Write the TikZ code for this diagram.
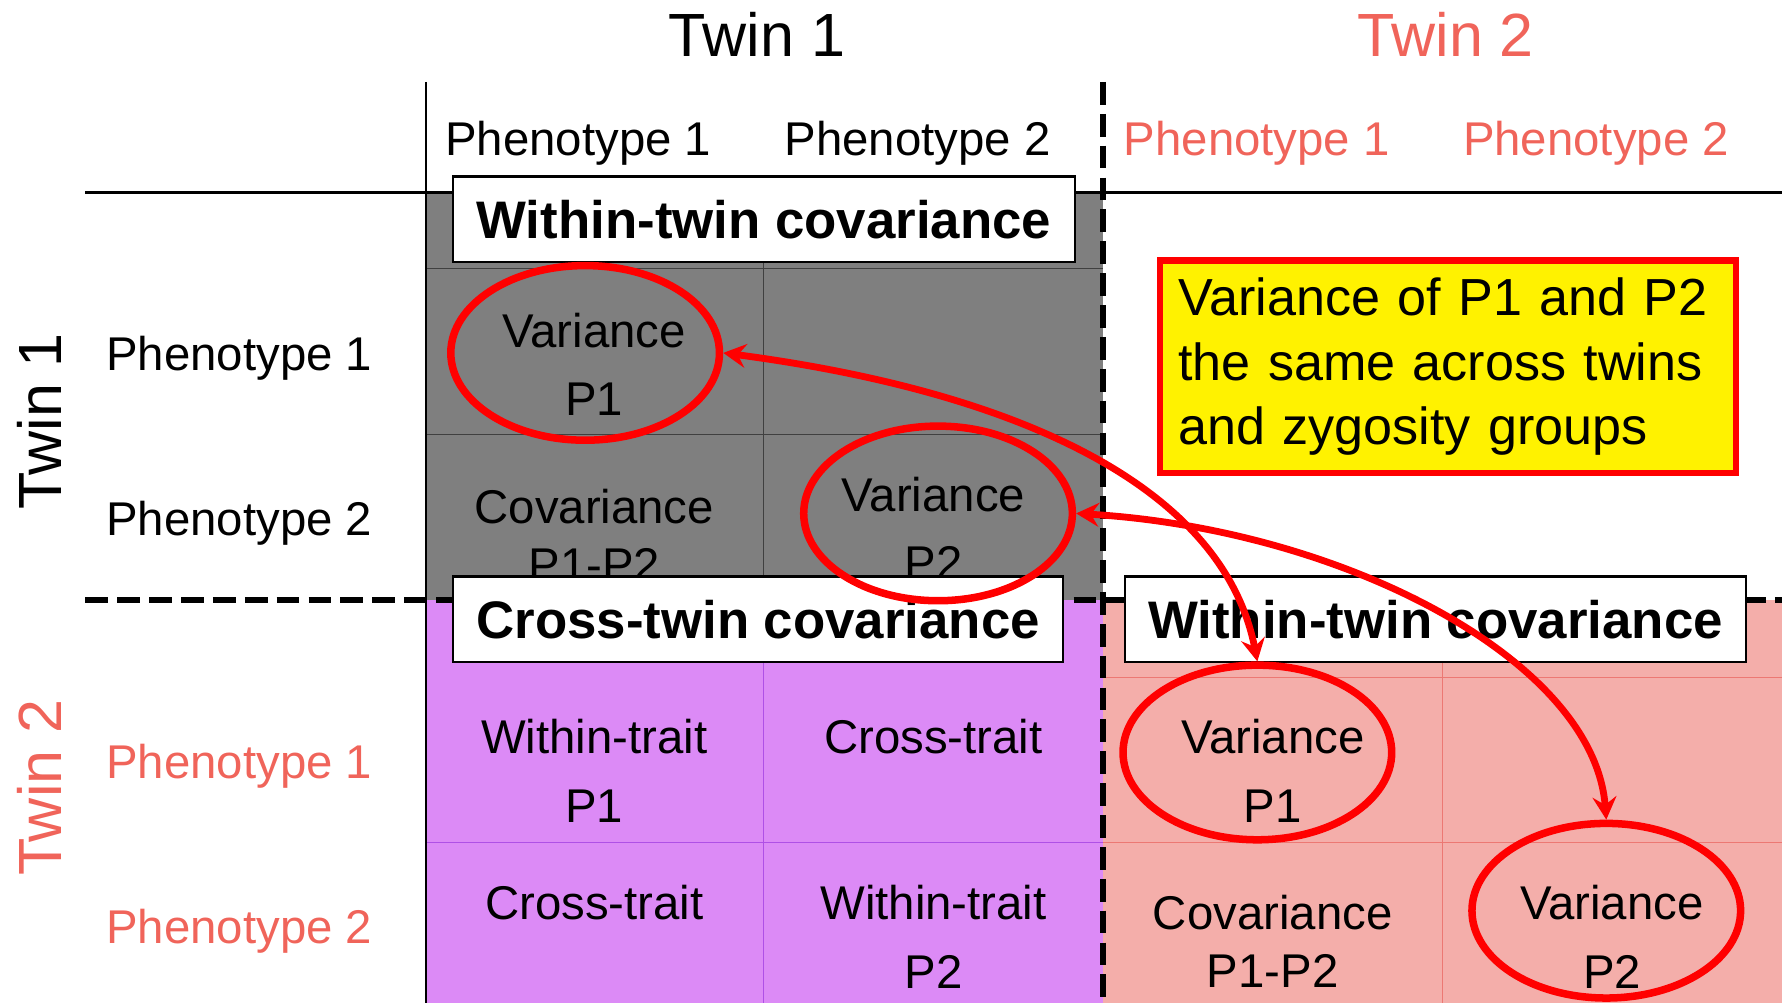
\documentclass[tikz,border=0pt]{standalone}
\usepackage{fontspec}
\setmainfont{Liberation Sans}
\usetikzlibrary{arrows.meta,positioning,shapes.geometric}

\definecolor{twincol}{RGB}{240,100,90}
\definecolor{cellgray}{RGB}{127,127,127}
\definecolor{cellpurple}{RGB}{220,138,246}
\definecolor{cellpink}{RGB}{244,174,170}
\definecolor{linepurple}{RGB}{175,80,230}
\definecolor{linepink}{RGB}{236,120,115}

\begin{document}
\begin{tikzpicture}[x=0.5pt,y=-0.5pt,
  txt/.style={font=\fontsize{20.8pt}{30pt}\selectfont,inner sep=0pt},
  cell/.style={txt,align=center},
  covcell/.style={cell,font=\fontsize{20.8pt}{25.5pt}\selectfont},
  big/.style={font=\fontsize{26.8pt}{32pt}\selectfont,inner sep=0pt},
  lbl/.style={draw,fill=white,line width=1pt,minimum height=37.5pt,inner sep=0pt,
    font=\fontsize{23.2pt}{28pt}\selectfont\bfseries},
  ring/.style={ellipse,draw=red,line width=3.3pt,minimum width=118pt,minimum height=76.7pt},
  arr/.style={{Stealth[length=10pt,width=10.5pt,inset=3.5pt]}-{Stealth[length=10pt,width=10.5pt,inset=3.5pt]},
    red,line width=3pt},
  gline/.style={line width=0.5pt},
  sepline/.style={dash pattern=on 10pt off 4pt,line width=2.75pt}]
\useasboundingbox (0,0) rectangle (1568,881);

% blocks of the matrix
\fill[cellgray] (374,169) rectangle (969,527);
\fill[cellpurple] (374,527) rectangle (969,881);
\fill[cellpink] (969,527) rectangle (1565,881);
\draw[gline,black!75] (374,236) -- (969,236) (374,382) -- (969,382) (671,169) -- (671,527);
\draw[gline,linepurple] (374,740) -- (969,740) (671,527) -- (671,881);
\draw[gline,linepink] (969,595) -- (1565,595) (969,740) -- (1565,740) (1267,527) -- (1267,881);
\draw[line width=1.2pt] (75,169) -- (1565,169);
\draw[line width=1pt] (374,72) -- (374,881);
\draw[sepline] (75,527) -- (1565,527);
\draw[sepline] (969,72) -- (969,881);

% headers
\node[big] (tw1) at (665,30) {Twin 1};
\node[big,twincol] (tw2) at (1270,30) {Twin 2};
\node[big,rotate=90] (tw1s) at (35,370) {Twin 1};
\node[big,rotate=90,twincol] (tw2s) at (35,692) {Twin 2};
\node[txt] (ca1) at (508,126) {Phenotype 1};
\node[txt] (ca2) at (806,126) {Phenotype 2};
\node[txt,twincol] (cb1) at (1104,126) {Phenotype 1};
\node[txt,twincol] (cb2) at (1402,126) {Phenotype 2};
\node[txt,anchor=west] (ra1) at (93,315) {Phenotype 1};
\node[txt,anchor=west] (ra2) at (93,460) {Phenotype 2};
\node[txt,anchor=west,twincol] (rb1) at (93,673) {Phenotype 1};
\node[txt,anchor=west,twincol] (rb2) at (93,818) {Phenotype 2};

% cell contents
\node[cell] (g11) at (522,320) {Variance\\P1};
\node[covcell] (g21) at (522,470) {Covariance\\P1-P2};
\node[cell] (g22) at (820,464) {Variance\\P2};
\node[cell] (p11) at (522,677) {Within-trait\\P1};
\node[cell] (p12) at (820,647) {Cross-trait};
\node[cell] (p21) at (522,793) {Cross-trait};
\node[cell] (p22) at (820,823) {Within-trait\\P2};
\node[cell] (r11) at (1118,677) {Variance\\P1};
\node[covcell] (r21) at (1118,827) {Covariance\\P1-P2};
\node[cell] (r22) at (1416,823) {Variance\\P2};

% block labels
\node[lbl,minimum width=273pt] (wtA) at (671,192.5) {Within-twin covariance};
\node[lbl,minimum width=268pt] (ctw) at (666,544) {Cross-twin covariance};
\node[lbl,minimum width=273pt] (wtB) at (1261,544) {Within-twin covariance};

% note
\node[draw=red,fill=yellow,line width=3pt,minimum width=253pt,minimum height=93.5pt,
  inner sep=0pt,text width=237pt,align=left,font=\fontsize{22.9pt}{28.3pt}\selectfont] (note)
  at (1272,322) {Variance of P1 and P2\\the same across twins\\and zygosity groups};

% variances and links
\node[ring] (vA1) at (514,310) {};
\node[ring] (vA2) at (824,451) {};
\node[ring] (vB1) at (1104.5,661) {};
\node[ring] (vB2) at (1411,800) {};
\draw[arr] (vA1.east) .. controls (900,345) and (1075,430) .. (vB1.north);
\draw[arr] (vA2.east) .. controls (1180,465) and (1400,580) .. (vB2.north);
\end{tikzpicture}
\end{document}
